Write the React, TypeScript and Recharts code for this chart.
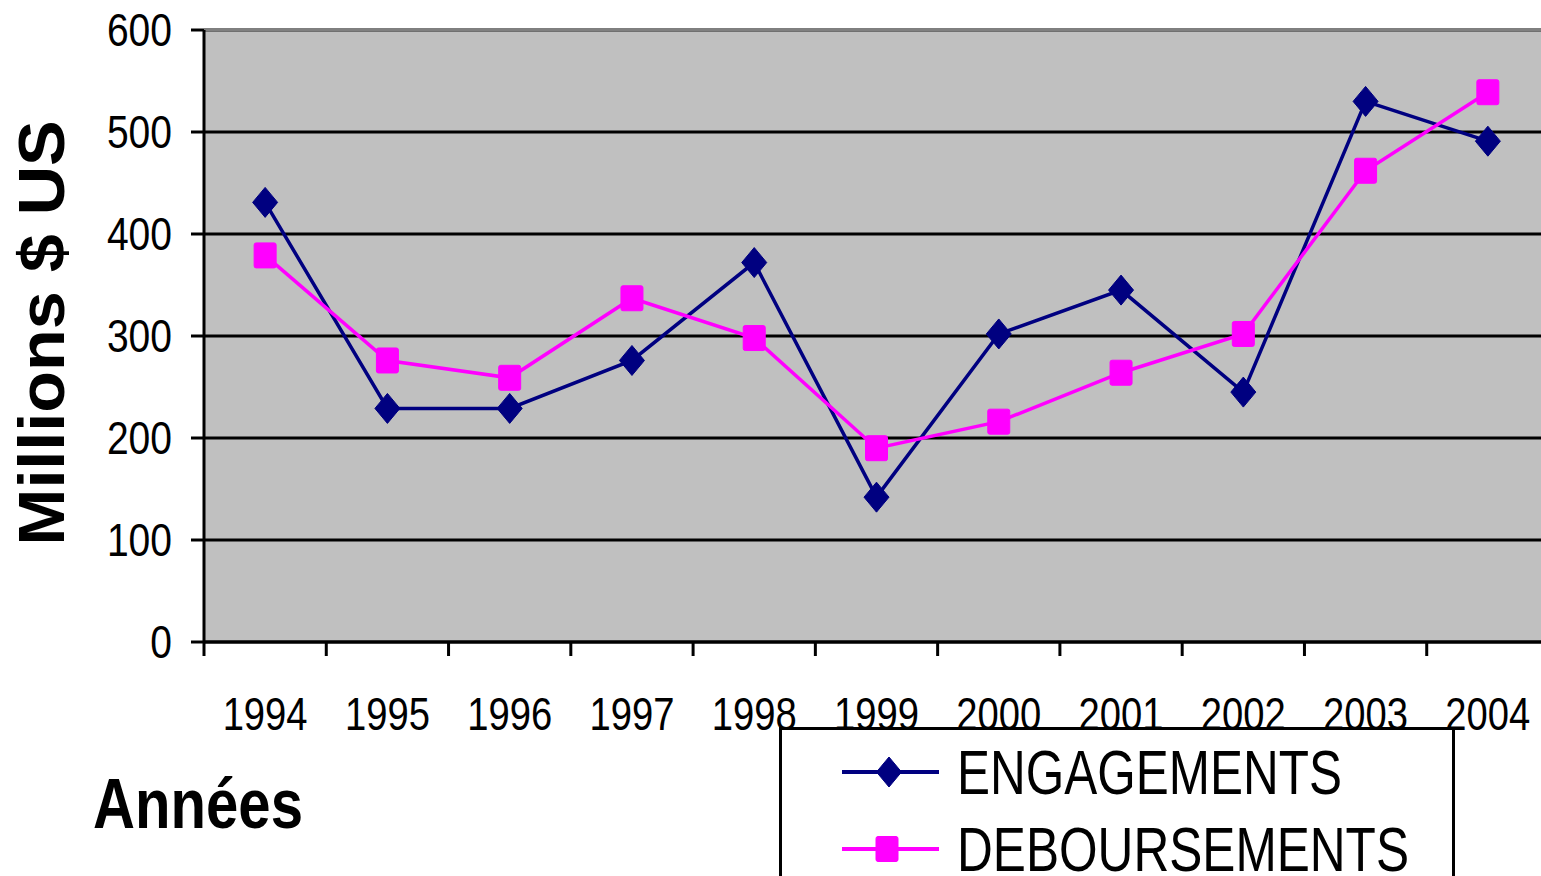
import React from 'react';
import { LineChart, Line, XAxis, YAxis, CartesianGrid, Legend, ReferenceLine } from 'recharts';

const years = ['1994', '1995', '1996', '1997', '1998', '1999', '2000', '2001', '2002', '2003', '2004'];
const engagements = [431, 229, 229, 276, 372, 142, 302, 345, 245, 530, 491];
const deboursements = [379, 276, 259, 337, 298, 190, 216, 264, 302, 462, 539];
const yTicks = [0, 100, 200, 300, 400, 500, 600];
const seriesNames = ['ENGAGEMENTS', 'DEBOURSEMENTS'];

const data = years.map((y, i) => ({ year: y, eng: engagements[i], deb: deboursements[i] }));

const W = 1560;
const H = 876;
const LEFT = 204;
const RIGHT = 11;
const TOP = 30;
const XH = 234;
const HALF_BAND = (W - LEFT - RIGHT) / years.length / 2;
const FONT = '"Liberation Sans", Arial, sans-serif';
const NAVY = '#000080';
const MAGENTA = '#FF00FF';

const Diamond = (props: any) => {
  const { cx, cy } = props;
  if (cx == null || cy == null) return null;
  return <path d={`M${cx},${cy - 15} L${cx + 12.5},${cy} L${cx},${cy + 15} L${cx - 12.5},${cy} Z`} fill={NAVY} stroke={NAVY} strokeWidth={1} strokeLinejoin="round" />;
};

const Square = (props: any) => {
  const { cx, cy } = props;
  if (cx == null || cy == null) return null;
  return <rect x={cx - 11} y={cy - 12.5} width={22} height={25} rx={2} fill={MAGENTA} stroke={MAGENTA} strokeWidth={1} />;
};

const XTick = (props: any) => {
  const { x, y, payload } = props;
  return (
    <g>
      <line x1={x - HALF_BAND} y1={y} x2={x - HALF_BAND} y2={y + 14} stroke="#000" strokeWidth={3} />
      <text x={x} y={y + 88} textAnchor="middle" fontFamily={FONT} fontSize={46} fill="#000" textLength={85} lengthAdjust="spacingAndGlyphs">
        {payload.value}
      </text>
    </g>
  );
};

const YTick = (props: any) => {
  const { x, y, payload } = props;
  const s = String(payload.value);
  return (
    <g>
      <line x1={x - 13} y1={y} x2={x} y2={y} stroke="#000" strokeWidth={3} />
      <text x={x - 32} y={y + 16} textAnchor="end" fontFamily={FONT} fontSize={46} fill="#000" textLength={s.length * 21.7} lengthAdjust="spacingAndGlyphs">
        {s}
      </text>
    </g>
  );
};

const YLabel = (props: any) => {
  const { viewBox } = props;
  const cx = viewBox.x + 42;
  const cy = viewBox.y + viewBox.height / 2 - 3;
  return (
    <text x={cx} y={cy} transform={`rotate(-90 ${cx} ${cy})`} textAnchor="middle" dominantBaseline="central" fontFamily={FONT} fontWeight="bold" fontSize={64} fill="#000" textLength={425} lengthAdjust="spacingAndGlyphs">
      Millions $ US
    </text>
  );
};

const XLabel = () => (
  <text x={93} y={828} fontFamily={FONT} fontWeight="bold" fontSize={70} fill="#000" textLength={210} lengthAdjust="spacingAndGlyphs">
    Années
  </text>
);

const LegendContent = () => (
  <svg width={676} height={160} style={{ display: 'block' }}>
    <rect x={1.5} y={1.5} width={673} height={200} fill="#fff" stroke="#000" strokeWidth={3} />
    <line x1={63} y1={45} x2={160} y2={45} stroke={NAVY} strokeWidth={4} />
    <Diamond cx={110} cy={45} />
    <text x={178} y={67} fontFamily={FONT} fontSize={63} fill="#000" textLength={385} lengthAdjust="spacingAndGlyphs">{seriesNames[0]}</text>
    <line x1={63} y1={122} x2={160} y2={122} stroke={MAGENTA} strokeWidth={4} />
    <Square cx={108} cy={122} />
    <text x={178} y={144} fontFamily={FONT} fontSize={63} fill="#000" textLength={452} lengthAdjust="spacingAndGlyphs">{seriesNames[1]}</text>
  </svg>
);

export default function App() {
  return (
    <div style={{ position: 'absolute', left: 0, top: 0, width: 1541, height: 876, overflow: 'hidden', background: '#fff' }}>
      <LineChart width={W} height={H} data={data} margin={{ top: TOP, right: RIGHT, bottom: 0, left: 0 }}>
        <CartesianGrid vertical={false} stroke="#000" strokeWidth={3} fill="#C0C0C0" fillOpacity={1} />
        <ReferenceLine y={600} stroke="#808080" strokeWidth={3} />
        <XAxis dataKey="year" height={XH} padding={{ left: HALF_BAND, right: HALF_BAND }} tickSize={0} tickMargin={0} tick={<XTick />} axisLine={{ stroke: '#000', strokeWidth: 3 }} tickLine={false} interval={0} label={<XLabel />} />
        <YAxis width={LEFT} domain={[0, 600]} ticks={yTicks} tickSize={0} tickMargin={0} tick={<YTick />} axisLine={{ stroke: '#000', strokeWidth: 3 }} tickLine={false} interval={0} label={<YLabel />} />
        <Line dataKey="eng" name={seriesNames[0]} stroke={NAVY} strokeWidth={3.5} dot={<Diamond />} activeDot={false} isAnimationActive={false} />
        <Line dataKey="deb" name={seriesNames[1]} stroke={MAGENTA} strokeWidth={3.5} dot={<Square />} activeDot={false} isAnimationActive={false} />
        <Legend layout="horizontal" verticalAlign="middle" align="center" content={<LegendContent />} wrapperStyle={{ position: 'absolute', left: 779, top: 727, width: 676, height: 160 }} />
      </LineChart>
    </div>
  );
}
